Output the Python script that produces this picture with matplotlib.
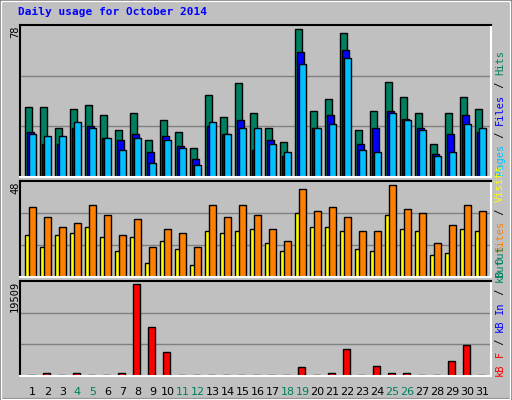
import matplotlib
matplotlib.use("Agg")
import matplotlib.pyplot as plt
from matplotlib.patches import Rectangle
import numpy as np

days = list(range(1, 32))
weekend = [4, 5, 11, 12, 18, 19, 25, 26]
hits  = [36,36,25,35,37,32,24,33,19,29,23,15,42,31,48,33,25,18,76,34,40,74,24,34,49,41,33,17,33,41,35]
files = [23,17,17,25,26,20,19,22,13,21,16,9,26,22,29,14,19,11,64,25,32,65,17,25,34,30,25,12,22,32,23]
pages = [22,21,21,28,25,20,14,20,7,19,15,6,28,22,25,25,17,13,58,25,27,61,14,13,33,29,24,11,13,27,25]
visits = [21,15,21,22,25,20,13,20,7,18,14,6,23,22,23,24,17,13,32,25,25,23,14,13,31,24,23,11,12,24,23]
sites  = [35,30,25,27,36,31,21,29,15,24,22,15,36,30,36,31,24,18,44,33,35,30,23,23,46,34,32,17,26,36,33]
kbf = [250,600,250,600,250,250,600,19509,10390,5090,250,250,250,250,250,250,250,250,1908,250,600,5725,250,2120,600,600,250,250,3180,6574,250]
max_top, max_mid, max_bot = 78, 48, 19509

BG = "#c0c0c0"
fig = plt.figure(figsize=(5.12, 4.0), dpi=100, facecolor=BG)
W, H = 512, 400
def fx(px): return px / W
def fy(py): return 1 - py / H

fig.patches.append(Rectangle((0, 0), 1, 1, transform=fig.transFigure, fill=False, ec="#808080", lw=3, zorder=0))
fig.patches.append(Rectangle((fx(1), fy(399)), fx(509), 398/H, transform=fig.transFigure, fill=False, ec="white", lw=1, zorder=0))

x = np.array(days) - 1
xl = (-0.33, 31.07)
left, width = fx(20), 471 / W

def mkax(top, bottom):
    ax = fig.add_axes([left, fy(bottom), width, (bottom - top) / H])
    ax.set_facecolor(BG)
    ax.set_xlim(*xl)
    ax.set_xticks([]); ax.set_yticks([])
    for s in ["top", "left"]:
        ax.spines[s].set_color("black")
    for s in ["bottom", "right"]:
        ax.spines[s].set_color("white")
    for s in ax.spines.values():
        s.set_linewidth(1.5)
    return ax

ek = dict(edgecolor="black", linewidth=1, align="edge")
ax1 = mkax(25, 177)
ax1.set_ylim(0, max_top)
for g in (max_top / 3, 2 * max_top / 3):
    ax1.axhline(g, color="#808080", lw=1, zorder=0)
ax1.bar(x, hits, width=0.47, color="#008060", **ek)
ax1.bar(x + 0.13, files, width=0.47, color="#0000ff", **ek)
ax1.bar(x + 0.27, pages, width=0.46, color="#00c0ff", **ek)

ax2 = mkax(181, 277)
ax2.set_ylim(0, max_mid)
for g in (max_mid / 3, 2 * max_mid / 3):
    ax2.axhline(g, color="#808080", lw=1, zorder=0)
ax2.bar(x, visits, width=0.33, color="#ffff00", **ek)
ax2.bar(x + 0.27, sites, width=0.46, color="#ff8000", **ek)

ax3 = mkax(281, 376)
ax3.set_ylim(0, max_bot * 1.03)
for g in (max_bot * 1.03 / 3, 2 * max_bot * 1.03 / 3):
    ax3.axhline(g, color="#808080", lw=1, zorder=0)
ax3.bar(x + 0.2, kbf, width=0.5, color="#ff0000", **ek)

for d in days:
    ax3.text(d - 1 + 0.5, -0.12, str(d), transform=ax3.get_xaxis_transform(),
             ha="center", va="top", fontsize=8, family="DejaVu Sans",
             color="#008060" if d in weekend else "black")

mono = dict(family="DejaVu Sans Mono", fontsize=7.5, rotation=90)
fig.text(fx(18), fy(15), "Daily usage for October 2014", color="#0000ff",
         fontweight="bold", family="DejaVu Sans Mono", fontsize=8, va="baseline")
fig.text(fx(15), fy(25), str(max_top), ha="center", va="top", **mono)
fig.text(fx(15), fy(181), str(max_mid), ha="center", va="top", **mono)
fig.text(fx(15), fy(281), str(max_bot), ha="center", va="top", **mono)

renderer = fig.canvas.get_renderer()
def side(parts, bottom_px):
    y = bottom_px
    for txt, col in parts:
        t = fig.text(fx(500), fy(y), txt, color=col, ha="center", va="bottom", **mono)
        # advance by the width of the string (monospace: measure a placeholder)
        probe = fig.text(0, 0, "x" * len(txt), family="DejaVu Sans Mono", fontsize=7.5)
        y -= probe.get_window_extent(renderer).width
        probe.remove()
side([("Pages", "#00c0ff"), (" / ", "black"), ("Files", "#0000ff"), (" / ", "black"), ("Hits", "#008060")], 175)
side([("Out", "#008060"), (" ", "black"), ("Sites", "#ff8000"), (" / ", "black"), ("Visits", "#ffff00")], 277)
side([("kB", "#ff0000"), (" ", "black"), ("F", "#ff0000"), (" / ", "black"), ("kB", "#0000ff"), (" ", "black"),
      ("In", "#0000ff"), (" / ", "black"), ("kB", "#008060"), (" ", "black"), ("Out", "#008060")], 376)

fig.savefig("out.png", dpi=100, facecolor=BG)
